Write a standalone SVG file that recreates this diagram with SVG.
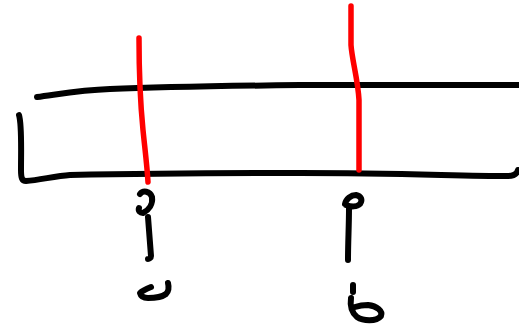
<svg xmlns="http://www.w3.org/2000/svg" width="519" height="330" viewBox="0 0 519 330">
<style>
.k{fill:none;stroke:#000;stroke-width:6;stroke-linecap:round;stroke-linejoin:round}
.r{fill:none;stroke:#ff0000;stroke-width:5.5;stroke-linecap:round;stroke-linejoin:round}
</style>
<rect width="519" height="330" fill="#fff"/>
<g id="box">
<path class="k" d="M37,97 C60,94 80,90 110,89 C160,87 220,86 300,85 L522,85"/>
<path class="k" d="M19,115 C22,125 21,150 21,170 C21,178 22,181 26,181 C40,180 55,176 70,175 C120,174 200,173 300,173 C400,173 460,176 508,176 C514,176 517,174 518,170"/>
</g>
<g id="connectors">
<path class="r" d="M139,38 C139,70 140,100 143,130 C145,150 147,165 148,182"/>
<path class="r" d="M351,6 L351,45 C352,60 358,80 359,100 L359,170"/>
</g>
<g id="mark-a">
<path class="k" d="M140,194 C143,190 150,191 152,197 C153,204 149,210 143,213 C140,213 138,211 139,208"/>
<path class="k" d="M148,217 C149,230 150,243 151,256 C151,258 149,259 148,259"/>
<path class="k" d="M151,287 C146,289 142,291 140,293 C141,297 144,298 148,298 C155,298 162,297 166,294 C169,291 169,287 168,283"/>
</g>
<g id="mark-b">
<path class="k" d="M345,204 C346,199 351,195 356,195 C361,196 363,200 360,204 C357,207 351,207 346,205"/>
<path class="k" d="M349,208 C349,225 348,243 348,260"/>
<path class="k" d="M353,285 L353,292"/>
<path class="k" d="M351,298 C350,305 351,312 357,317 C363,321 376,322 381,316 C383,311 377,306 368,305 C362,305 358,306 355,307"/>
</g>
</svg>
